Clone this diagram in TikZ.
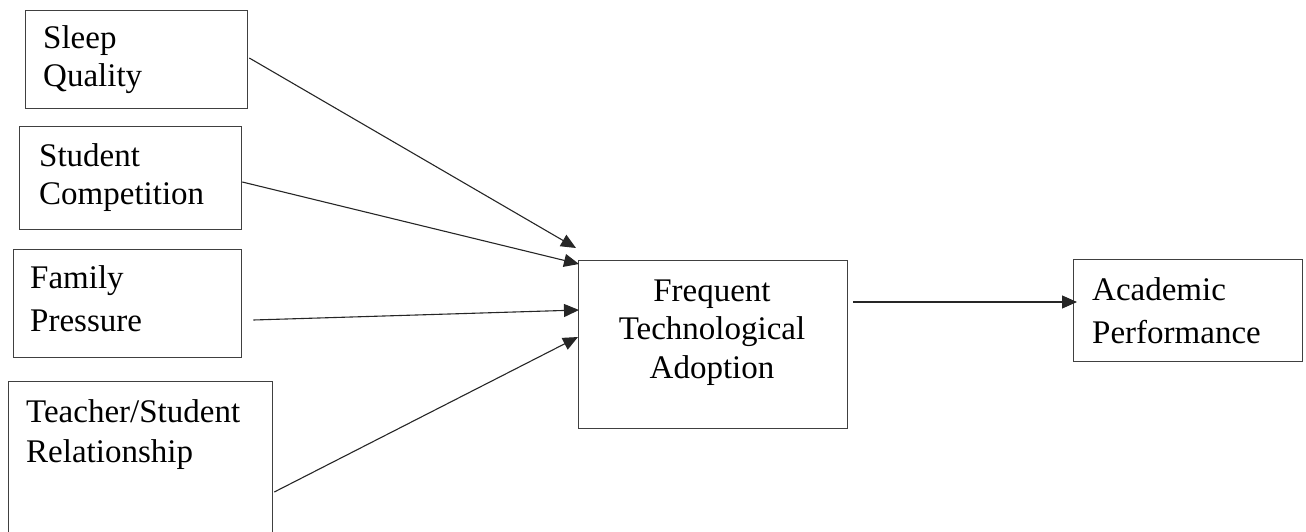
\documentclass[tikz,border=0pt]{standalone}
\usepackage{fontspec}
\setmainfont{Liberation Serif}
\usetikzlibrary{arrows.meta}
\begin{document}
\begin{tikzpicture}[x=1pt,y=-1pt,
  boxnode/.style={draw=black!75,line width=1.3pt,rectangle,inner sep=0pt,anchor=north west},
  txt/.style={inner sep=0pt,anchor=base west,font=\fontsize{33}{38}\selectfont},
  ctxt/.style={inner sep=0pt,anchor=base,font=\fontsize{33}{38}\selectfont},
  arr/.style={line width=1.1pt,black!85,-{Triangle[length=15pt,width=13pt]}}]
\useasboundingbox (0,0) rectangle (1306,531);
% boxes
\node[boxnode,minimum width=222pt,minimum height=98pt] (b1) at (25,10) {};
\node[boxnode,minimum width=222pt,minimum height=103pt] (b2) at (19,126) {};
\node[boxnode,minimum width=228pt,minimum height=108pt] (b3) at (13,249) {};
\node[boxnode,minimum width=264pt,minimum height=155pt] (b4) at (8,381) {};
\node[boxnode,minimum width=269pt,minimum height=168pt] (b5) at (578,260) {};
\node[boxnode,minimum width=229pt,minimum height=102pt] (b6) at (1073,259) {};
% texts
\node[txt] (t1a) at (43,48) {Sleep};
\node[txt] (t1b) at (43,86) {Quality};
\node[txt] (t2a) at (39,166) {Student};
\node[txt] (t2b) at (39,204) {Competition};
\node[txt] (t3a) at (30,288) {Family};
\node[txt] (t3b) at (30,331) {Pressure};
\node[txt] (t4a) at (26,422) {Teacher/Student};
\node[txt] (t4b) at (26,462) {Relationship};
\node[ctxt] (t5a) at (712,301) {Frequent};
\node[ctxt] (t5b) at (712,339) {Technological};
\node[ctxt] (t5c) at (712,378) {Adoption};
\node[txt] (t6a) at (1092,300) {Academic};
\node[txt] (t6b) at (1092,343) {Performance};
% connectors
\draw[arr] ([shift={(1,48)}]b1.north east) -- ([shift={(-2,-12)}]b5.north west);
\draw[arr] ([shift={(0,56)}]b2.north east) -- ([shift={(1,4)}]b5.north west);
\draw[arr] ([shift={(11,71)}]b3.north east) -- ([shift={(1,50)}]b5.north west);
\draw[arr] ([shift={(1,111)}]b4.north east) -- ([shift={(0,77)}]b5.north west);
\draw[arr] ([shift={(5,42)}]b5.north east) -- ([shift={(4,43)}]b6.north west);
\end{tikzpicture}
\end{document}
